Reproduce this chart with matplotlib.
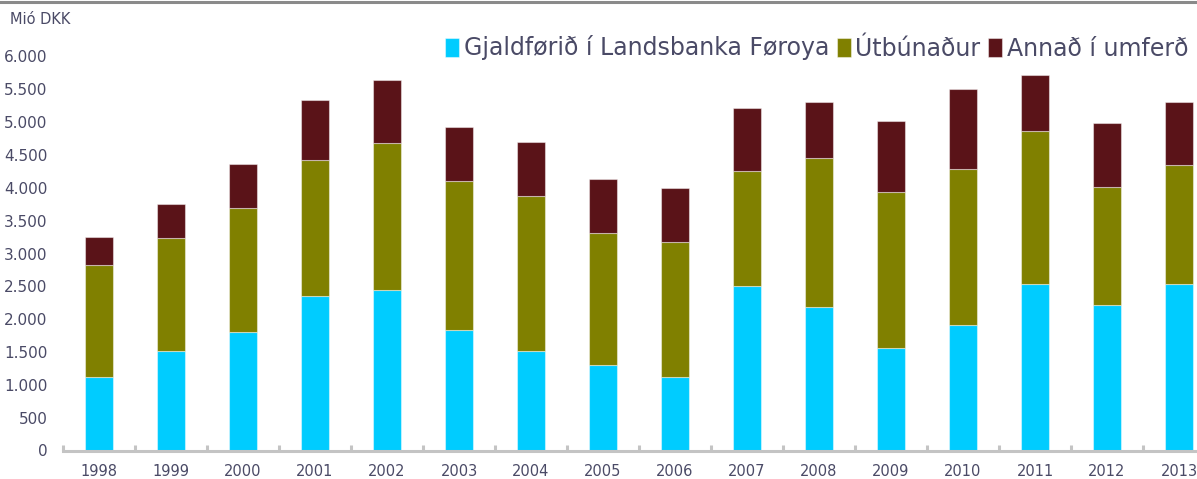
import matplotlib
matplotlib.use("Agg")
import matplotlib.pyplot as plt
from matplotlib.ticker import FixedLocator, FuncFormatter
from matplotlib.lines import Line2D
import numpy as np

years = ["1998", "1999", "2000", "2001", "2002", "2003", "2004", "2005",
         "2006", "2007", "2008", "2009", "2010", "2011", "2012", "2013"]
gjaldforid = [1120, 1510, 1800, 2350, 2440, 1830, 1510, 1300,
              1125, 2500, 2185, 1565, 1910, 2530, 2210, 2530]
utbunadur = [1705, 1722, 1898, 2079, 2248, 2274, 2361, 2017,
             2046, 1757, 2270, 2367, 2377, 2336, 1808, 1814]
annad = [426, 522, 670, 904, 959, 818, 823, 818,
         822, 955, 848, 1082, 1219, 848, 970, 959]
series_names = ["Gjaldførið í Landsbanka Føroya", "Útbúnaður", "Annað í umferð"]
colors = ["#00CCFF", "#808000", "#5A1318"]
yticks = [0, 500, 1000, 1500, 2000, 2500, 3000, 3500, 4000, 4500, 5000, 5500, 6000]

text_color = "#4a4a66"
axis_gray = "#c4c4c4"

W, H = 1197, 479
fig = plt.figure(figsize=(W / 100, H / 100), dpi=100)
ax = fig.add_axes([63 / W, 1 - 450.5 / H, 1 - 63 / W, (450.5 - 56.5) / H])

x = np.arange(len(years))
bottom = np.zeros(len(years))
for vals, name, c in zip([gjaldforid, utbunadur, annad], series_names, colors):
    ax.bar(x, vals, width=0.4, bottom=bottom, color=c, label=name,
           edgecolor=(1, 1, 1, 0.45), linewidth=0.8, zorder=2)
    bottom += np.array(vals)

ax.set_xlim(-0.5, 15.25)
ax.set_ylim(0, 6000)

for s in ["top", "right", "left"]:
    ax.spines[s].set_visible(False)
ax.spines["bottom"].set_color(axis_gray)
ax.spines["bottom"].set_linewidth(2.2)
ax.spines["bottom"].set_zorder(3)

ax.set_yticks(yticks)
ax.yaxis.set_major_formatter(FuncFormatter(lambda v, p: f"{int(v):,}".replace(",", ".")))
ax.tick_params(axis="y", length=0, pad=11, labelsize=11, labelcolor=text_color)

ax.set_xticks(x)
ax.set_xticklabels(years)
ax.tick_params(axis="x", which="major", length=0, pad=10, labelsize=10.5, labelcolor=text_color)
ax.xaxis.set_minor_locator(FixedLocator(np.arange(-0.5, 15.5, 1.0)))
ax.tick_params(axis="x", which="minor", direction="in", length=4.5, width=2.2, color=axis_gray)

for lab in ax.get_yticklabels() + ax.get_xticklabels():
    lab.set_family(["DejaVu Sans"])

# top gray rule
fig.add_artist(Line2D([0, 1], [1 - 1.5 / H, 1 - 1.5 / H], transform=fig.transFigure,
                      color="#8a8a8a", linewidth=2.2))

fig.text(10 / W, 1 - 20 / H, "Mió DKK", ha="left", va="center",
         fontsize=10.5, color=text_color, family=["DejaVu Sans"])

leg = ax.legend(loc="center right", bbox_to_anchor=(1188 / W, 1 - 48 / H),
                bbox_transform=fig.transFigure, ncol=3, frameon=False,
                handlelength=0.6, handleheight=0.85, handletextpad=0.2,
                columnspacing=0.3, borderaxespad=0, borderpad=0,
                prop={"family": ["DejaVu Sans"], "size": 17})
for t in leg.get_texts():
    t.set_color(text_color)

fig.savefig("out.png", dpi=100)
